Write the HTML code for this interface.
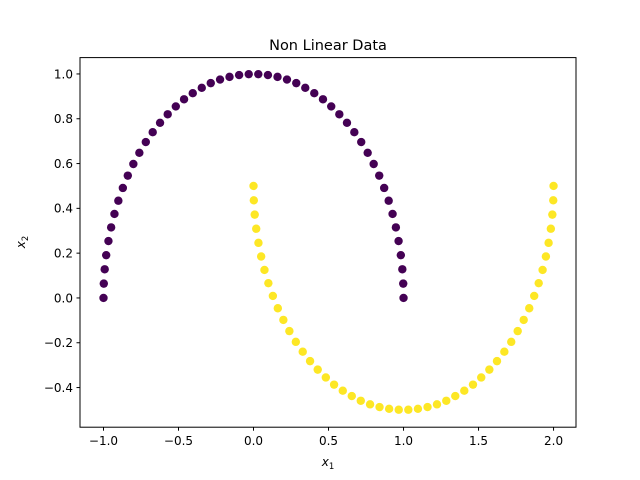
<!DOCTYPE html>
<html><head><meta charset="utf-8"><style>
body{margin:0;background:#fff;}
svg{display:block;font-family:"DejaVu Sans","Liberation Sans",sans-serif;}
</style></head><body>
<svg id="chart" width="640" height="480" viewBox="0 0 640 480" xmlns="http://www.w3.org/2000/svg">
<rect width="640" height="480" fill="#fff"/>
<text x="328" y="50" font-size="14.5" text-anchor="middle" fill="#000">Non Linear Data</text>
<g id="marks"></g>
<g id="axes"></g>
<rect x="80" y="57.6" width="496" height="369.6" fill="none" stroke="#000" stroke-width="1"/>
<text x="328" y="466" font-size="12" text-anchor="middle" font-style="italic">x<tspan font-size="8.5" dy="3" font-style="normal">1</tspan></text>
<text transform="translate(25,242) rotate(-90)" font-size="12" text-anchor="middle" font-style="italic">x<tspan font-size="8.5" dy="3" font-style="normal">2</tspan></text>
</svg>
<script>
const class0X=[1,0.998,0.992,0.982,0.967,0.949,0.927,0.901,0.871,0.838,0.801,0.761,0.718,0.672,0.623,0.572,0.518,0.463,0.405,0.345,0.285,0.223,0.160,0.096,0.032,-0.032,-0.096,-0.160,-0.223,-0.285,-0.345,-0.405,-0.463,-0.518,-0.572,-0.623,-0.672,-0.718,-0.761,-0.801,-0.838,-0.871,-0.901,-0.927,-0.949,-0.967,-0.982,-0.992,-0.998,-1];
const class0Y=[0,0.064,0.128,0.191,0.254,0.315,0.375,0.434,0.491,0.546,0.598,0.648,0.696,0.740,0.782,0.820,0.855,0.887,0.914,0.938,0.959,0.975,0.987,0.995,0.999,0.999,0.995,0.987,0.975,0.959,0.938,0.914,0.887,0.855,0.820,0.782,0.740,0.696,0.648,0.598,0.546,0.491,0.434,0.375,0.315,0.254,0.191,0.128,0.064,0];
const class1X=[0,0.002,0.008,0.018,0.033,0.051,0.073,0.099,0.129,0.162,0.199,0.239,0.282,0.328,0.377,0.428,0.482,0.537,0.595,0.655,0.715,0.777,0.840,0.904,0.968,1.032,1.096,1.160,1.223,1.285,1.345,1.405,1.463,1.518,1.572,1.623,1.672,1.718,1.761,1.801,1.838,1.871,1.901,1.927,1.949,1.967,1.982,1.992,1.998,2];
const class1Y=[0.5,0.436,0.372,0.309,0.246,0.185,0.125,0.066,0.009,-0.046,-0.098,-0.148,-0.196,-0.240,-0.282,-0.320,-0.355,-0.387,-0.414,-0.438,-0.459,-0.475,-0.487,-0.495,-0.499,-0.499,-0.495,-0.487,-0.475,-0.459,-0.438,-0.414,-0.387,-0.355,-0.320,-0.282,-0.240,-0.196,-0.148,-0.098,-0.046,0.009,0.066,0.125,0.185,0.246,0.309,0.372,0.436,0.5];
const xTicks=[-1.0,-0.5,0.0,0.5,1.0,1.5,2.0];
const yTicks=[-0.4,-0.2,0.0,0.2,0.4,0.6,0.8,1.0];
const NS="http://www.w3.org/2000/svg";
const xMin=-1.1533,xMax=2.153,yMin=-0.577,yMax=1.073;
const L=80,R=576,T=57.6,B=427.2;
function sx(v){return L+(v-xMin)/(xMax-xMin)*(R-L);}
function sy(v){return B-(v-yMin)/(yMax-yMin)*(B-T);}
const marks=document.getElementById('marks'),axes=document.getElementById('axes');
function pts(xs,ys,col,nm){for(let i=0;i<xs.length;i++){const c=document.createElementNS(NS,'circle');
c.setAttribute('cx',sx(xs[i])+0.5);c.setAttribute('cy',sy(ys[i]));c.setAttribute('r',4.2);c.setAttribute('fill',col);


marks.appendChild(c);}}
pts(class0X,class0Y,'#440154','class-0-point');
pts(class1X,class1Y,'#fde725','class-1-point');
function lab(v){return (v<0?'\u2212':'')+Math.abs(v).toFixed(1);}
xTicks.forEach(v=>{const x=sx(v)+0.5;const l=document.createElementNS(NS,'line');
l.setAttribute('x1',x);l.setAttribute('x2',x);l.setAttribute('y1',B);l.setAttribute('y2',B+3.5);l.setAttribute('stroke','#000');


axes.appendChild(l);const t=document.createElementNS(NS,'text');t.setAttribute('x',x);t.setAttribute('y',B+18);t.setAttribute('font-size','12');t.setAttribute('text-anchor','middle');t.textContent=lab(v);


axes.appendChild(t);});
yTicks.forEach(v=>{const y=sy(v);const l=document.createElementNS(NS,'line');
l.setAttribute('x1',L-3.5);l.setAttribute('x2',L);l.setAttribute('y1',y);l.setAttribute('y2',y);l.setAttribute('stroke','#000');


axes.appendChild(l);const t=document.createElementNS(NS,'text');t.setAttribute('x',L-7);t.setAttribute('y',y+4.3);t.setAttribute('font-size','12');t.setAttribute('text-anchor','end');t.textContent=lab(v);


axes.appendChild(t);});
</script>
</body></html>
